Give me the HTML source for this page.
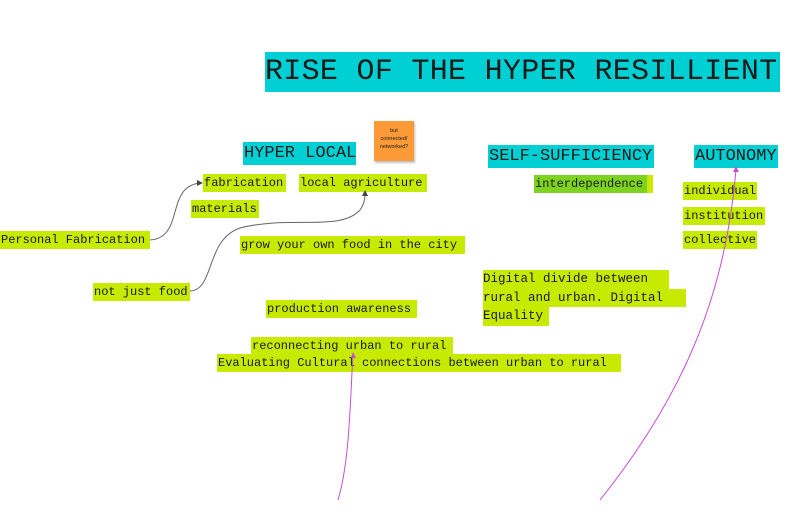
<!DOCTYPE html>
<html><head><meta charset="utf-8"><style>
body{margin:0;width:800px;height:512px;background:#fff;position:relative;overflow:hidden;font-family:"Liberation Mono",monospace;color:#1a1a1a}
.t{position:absolute;white-space:nowrap;line-height:1}
.g{background:#c6ea00;font-size:12px;padding:3px 1px 3px 1px}
.c{background:#00d0d4;font-size:17px;padding:3px 1px}
</style></head><body>
<div class="t" style="left:265px;top:52px;width:515px;height:40px;background:#00d0d4;font-size:30px;line-height:40px;letter-spacing:0.3px">RISE OF THE HYPER RESILLIENT</div>
<div class="t c" style="left:243px;top:142px;width:111px">HYPER LOCAL</div>
<div class="t c" style="left:488px;top:145px;width:164px">SELF-SUFFICIENCY</div>
<div class="t c" style="left:694px;top:145px;width:82px">AUTONOMY</div>
<div class="t" style="left:374px;top:121px;width:40px;height:40px;background:#fb9a36;box-shadow:1px 2px 2px rgba(0,0,0,.25);font-family:'Liberation Sans',sans-serif;font-size:5.5px;line-height:8px;text-align:center;padding:6px 4px 0;box-sizing:border-box;white-space:normal">but connected/ networked?</div>
<div class="t g" style="left:203px;top:174px;width:81px">fabrication</div>
<div class="t g" style="left:299px;top:174px;width:126px">local agriculture</div>
<div class="t g" style="left:191px;top:200px;width:66px">materials</div>
<div class="t g" style="left:0px;top:231px;width:148px">Personal Fabrication</div>
<div class="t g" style="left:240px;top:236px;width:223px">grow your own food in the city</div>
<div class="t g" style="left:93px;top:283px;width:95px">not just food</div>
<div class="t g" style="left:266px;top:300px;width:149px">production awareness</div>
<div class="t g" style="left:251px;top:337px;width:200px">reconnecting urban to rural</div>
<div class="t g" style="left:217px;top:354px;width:402px">Evaluating Cultural connections between urban to rural</div>
<div class="t g" style="left:534px;top:175px;width:117px;background:linear-gradient(90deg,#7ed321 0,#7ed321 95%,#c6ea00 95%)">interdependence</div>
<div class="t g" style="left:683px;top:182px;width:72px">individual</div>
<div class="t g" style="left:683px;top:207px;width:80px">institution</div>
<div class="t g" style="left:683px;top:231px;width:72px">collective</div>
<div class="t" style="left:483px;top:270px;font-size:12.5px;line-height:18.5px">
<span style="background:#c6ea00;display:inline-block;width:186px">Digital divide between</span><br>
<span style="background:#c6ea00;display:inline-block;width:203px">rural and urban. Digital</span><br>
<span style="background:#c6ea00;display:inline-block;width:66px">Equality</span></div>
<svg width="800" height="512" style="position:absolute;left:0;top:0" fill="none">
<path d="M150 240 C185 238 165 185 201 183" stroke="#666" stroke-width="1"/>
<path d="M197 180 L203 183 L197 186Z" fill="#444"/>
<path d="M190 291 C215 290 205 240 240 228 C290 215 340 232 360 210 C365 203 365 197 365 192" stroke="#666" stroke-width="1"/>
<path d="M362 196 L365 190 L368 196Z" fill="#444"/>
<path d="M338 500 C350 460 350 400 353 355" stroke="#c34fd4" stroke-width="1"/>
<path d="M351 358 L353 352 L356 358Z" fill="#c34fd4"/>
<path d="M600 500 C680 400 725 300 736 170" stroke="#c34fd4" stroke-width="1"/>
<path d="M733 172 L736 166 L739 172Z" fill="#c34fd4"/>
</svg>
</body></html>
